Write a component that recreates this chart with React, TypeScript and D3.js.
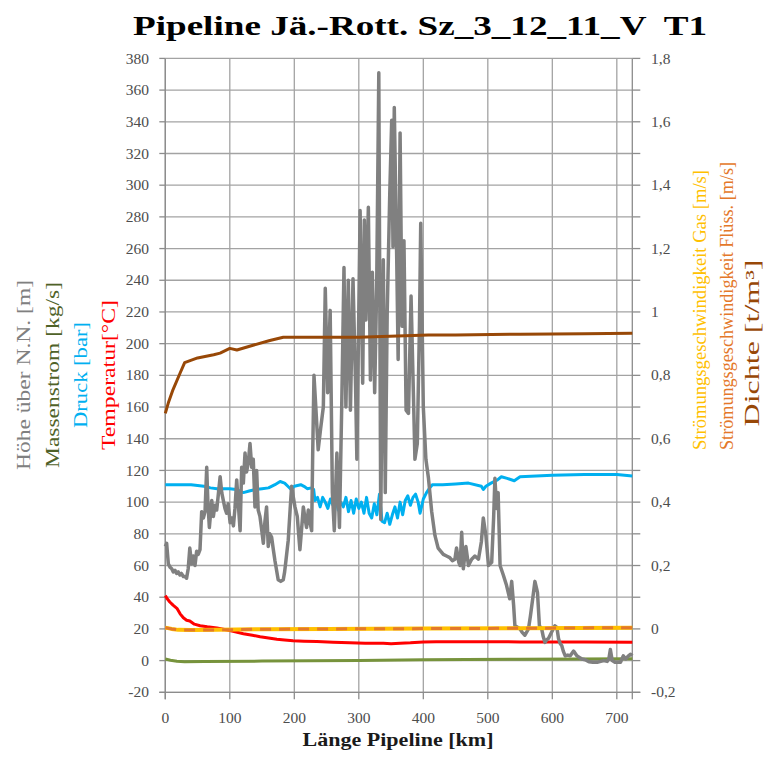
import React from 'react';
import * as d3 from 'd3';

const W = 766;
const H = 760;
const X0 = 165.3, X1 = 632.3, Y0 = 692.3, Y1 = 58.4;

const xTicks = [0, 100, 200, 300, 400, 500, 600, 700];
const leftTicks = [-20, 0, 20, 40, 60, 80, 100, 120, 140, 160, 180, 200, 220, 240, 260, 280, 300, 320, 340, 360, 380];
const rightTicks = [-0.2, 0, 0.2, 0.4, 0.6, 0.8, 1, 1.2, 1.4, 1.6, 1.8];
const rightTickLabels = ['-0,2', '0', '0,2', '0,4', '0,6', '0,8', '1', '1,2', '1,4', '1,6', '1,8'];
const rightMinorTicks = [-0.2, -0.1, 0, 0.1, 0.2, 0.3, 0.4, 0.5, 0.6, 0.7, 0.8, 0.9, 1, 1.1, 1.2, 1.3, 1.4, 1.5, 1.6, 1.7, 1.8];

// Höhe über N.N. [m]
const hoeheKm = [0, 2.1, 4.7, 7.3, 10, 12.4, 15, 17.6, 20, 22.8, 25, 28, 30.5, 33, 35.5, 38, 40.8, 43.4, 46, 48.6, 51, 53.8, 56.4, 59, 61.6, 64.2, 66, 68.3, 72, 74.5, 77, 79.7, 82, 85, 87.5, 90, 92.5, 95, 97.5, 100.5, 103, 105.6, 108, 110.7, 113, 116, 118.4, 121, 123.6, 126, 128.7, 131.3, 134, 136.4, 139, 141.6, 144, 146.7, 149, 152, 154.5, 157, 159.6, 162, 164.8, 167.5, 170, 172.5, 175, 179, 182.9, 185, 187, 190.6, 193, 195.8, 198.5, 201, 204.6, 206.7, 208.7, 211.5, 214, 216.5, 219, 221.7, 224, 226.9, 228.5, 230.5, 233.6, 237, 241, 245, 248, 251.7, 255.6, 259, 262, 266, 270, 273.4, 277, 280, 283.7, 287, 291, 295, 297, 302, 306, 308.6, 311, 314.8, 318, 321, 324.6, 327.7, 331, 334, 338, 341, 344, 348, 351, 353, 355, 358.8, 361, 364, 367, 370, 373.3, 377, 381, 384.6, 387, 390.7, 394, 396, 400, 404, 408, 413, 418, 423, 431, 436, 441, 445, 449, 451.5, 455, 457, 459.5, 462, 466, 470, 475, 480, 485.5, 490, 493, 497, 501, 506, 509, 511, 513.7, 516, 519, 524, 529, 534, 537, 540, 542, 546, 549.8, 553, 557.5, 563, 566, 569.6, 573, 577, 580, 583.5, 586, 588.7, 591, 594, 599, 604, 607, 609.6, 612, 614.7, 617, 620, 624, 627.8, 633, 638, 642, 646, 651, 656.6, 663, 669.5, 675, 680, 685, 687.6, 690, 692.8, 697, 700.6, 705.7, 710, 713.6, 718, 721.4, 724];
const hoeheVal = [72, 74, 61, 59, 58, 56, 57, 55, 56, 54, 55, 53, 53, 52, 58, 71, 61, 66, 60, 69, 67, 70, 94, 90, 94, 122, 100, 84, 101, 91, 98, 95, 104, 116, 106, 101, 96, 93, 99, 87, 90, 85, 96, 114, 100, 82, 122, 112, 131, 119, 125, 137, 122, 127, 97, 120, 95, 91, 84, 74, 88, 97, 72, 80, 78, 70, 63, 57, 51, 50, 51, 56, 63, 76, 92, 110, 103, 97, 91, 80, 70, 84, 97, 90, 84, 95, 88, 82, 130, 180, 158, 133, 147, 160, 235, 169, 221, 106, 82, 131, 84, 158, 248, 160, 240, 158, 241, 173, 127, 284, 175, 278, 215, 286, 177, 245, 169, 236, 371, 89, 253, 106, 219, 295, 341, 261, 349, 253, 190, 333, 211, 265, 158, 156, 230, 169, 127, 137, 211, 276, 160, 127, 115, 94, 79, 71, 67, 66, 65, 63, 64, 71, 62, 60, 81, 58, 72, 60, 64, 66, 64, 75, 90, 79, 60, 62, 90, 115, 96, 106, 60, 54, 47.5, 39, 50, 35, 22, 21, 20, 18, 16, 20, 28, 39, 50, 43, 22, 20, 15, 11.5, 13, 14, 18, 22, 21, 14, 11, 9.4, 6, 3, 3.5, 3, 6, 3, 2, 1, 0.5, -0.7, -1, -1.1, -0.5, 0, -0.5, 1, 7, 0, -1, -1, -1, 3, 1, 3, 4, 3];

// Massenstrom [kg/s]
const massKm = [0, 8, 18, 30, 60, 150, 300, 400, 550, 724];
const massVal = [1, 0.2, -0.4, -0.7, -0.6, -0.3, 0.1, 0.5, 0.9, 1.2];

// Druck [bar]
const druckKm = [0, 20, 40, 50, 60, 70, 80, 100, 110, 121, 130, 140, 150, 160, 170, 178, 185, 190, 195, 200, 210, 215, 220, 227, 230, 232, 236, 240, 244, 248, 252, 256, 260, 264, 268, 272, 276, 280, 284, 288, 292, 296, 300, 304, 308, 312, 316, 320, 324, 328, 332, 336, 340, 344, 348, 352, 356, 360, 364, 368, 372, 376, 380, 384, 388, 392, 395, 400, 405, 410, 414, 430, 450, 470, 490, 493, 497, 505, 515, 521, 530, 541, 550, 600, 650, 700, 724];
const druckVal = [111, 111, 111, 110.5, 110, 109, 108.5, 108.5, 108, 106, 107, 108, 108.5, 109, 111, 113, 112, 110, 108, 110, 111, 110, 108.5, 109, 108, 101, 103, 97, 103, 100, 96, 102, 98, 103, 95, 100, 97, 103, 94, 101, 93, 102, 96, 100, 93, 103, 93, 90, 99, 92, 105, 88, 87, 93, 86, 92, 97, 90, 100, 92, 101, 104, 98, 103, 105, 100, 93, 102, 106, 109, 111, 111, 111.5, 112, 110, 108, 110, 112, 114, 116, 115, 113.5, 116, 117, 117.5, 117.5, 116.5];

// Temperatur [°C]
const tempKm = [0, 3, 7, 12, 18, 23, 28, 33, 38, 45, 54, 65, 80, 90, 100, 110, 121, 135, 147, 160, 173, 185, 198, 215, 235, 260, 286, 310, 338, 350, 364, 380, 400, 420, 450, 500, 550, 600, 650, 724];
const tempVal = [41, 39, 37, 35, 33, 29.5, 27, 25.5, 25, 23, 22, 21.3, 20.6, 19.8, 19, 18, 17, 16, 15, 14.2, 13.5, 13, 12.5, 12.2, 12, 11.6, 11.3, 11, 11, 10.7, 10.9, 11.2, 11.8, 11.9, 11.9, 11.9, 11.8, 11.8, 11.7, 11.6];

// Strömungsgeschwindigkeit Gas / Flüss. [m/s] (right axis)
const speedKm = [0, 10, 20, 40, 80, 150, 250, 400, 550, 724];
const gasVal = [0.004, 0.0, -0.003, -0.0035, -0.003, -0.001, 0.0, 0.001, 0.002, 0.004];
const fluessVal = [0.004, 0.0, -0.003, -0.0035, -0.003, -0.001, 0.0, 0.001, 0.002, 0.004];

// Dichte [t/m³] (right axis)
const dichteKm = [0, 4.6, 12, 23, 30, 50, 75, 85, 100, 111, 136, 162, 183, 230, 300, 408, 450, 550, 650, 724];
const dichteVal = [0.68, 0.7125, 0.755, 0.8075, 0.84, 0.855, 0.865, 0.87, 0.885, 0.88, 0.895, 0.91, 0.92, 0.92, 0.92, 0.9275, 0.9275, 0.93, 0.9315, 0.9325];

const SERIF = '"Liberation Serif", "DejaVu Serif", serif';

export default function App() {
  const x = d3.scaleLinear().domain([0, 724]).range([X0, X1]);
  const yL = d3.scaleLinear().domain([-20, 380]).range([Y0, Y1]);
  const yR = d3.scaleLinear().domain([-0.2, 1.8]).range([Y0, Y1]);

  const mk = (km: number[], v: number[], y: d3.ScaleLinear<number, number>) =>
    d3.line<number>().x((_, i) => x(km[i])).y((d) => y(d))(v) || '';

  const gridColor = '#a3a3a3';
  const axisColor = '#8c8c8c';
  const tickText = '#4d4d4d';
  const tickFs = 15.5;

  const rotLabel = (cx: number, cy: number, txt: string, color: string, fs: number, len: number) => (
    <text
      transform={`translate(${cx},${cy}) rotate(-90)`}
      textAnchor="middle"
      dominantBaseline="central"
      fontFamily={SERIF}
      fontSize={fs}
      fill={color}
      textLength={len}
      lengthAdjust="spacingAndGlyphs"
    >
      {txt}
    </text>
  );

  return (
    <svg width={W} height={H} style={{ position: 'absolute', left: 0, top: 0, background: '#fff' }}>
      <rect x={0} y={0} width={W} height={H} fill="#fff" />
      {leftTicks.map((t) => (
        <line key={'hg' + t} x1={X0} x2={X1} y1={yL(t)} y2={yL(t)} stroke={gridColor} strokeWidth={1.3} />
      ))}
      {xTicks.map((t) => (
        <line key={'vg' + t} x1={x(t)} x2={x(t)} y1={Y1} y2={Y0} stroke={gridColor} strokeWidth={1.3} />
      ))}
      <line x1={X0} x2={X0} y1={Y1} y2={Y0 + 7} stroke={axisColor} strokeWidth={1.3} />
      <line x1={X1} x2={X1} y1={Y1} y2={Y0 + 7} stroke={axisColor} strokeWidth={1.3} />
      <line x1={X0 - 6} x2={X1 + 8} y1={Y0} y2={Y0} stroke={axisColor} strokeWidth={1.3} />
      {leftTicks.map((t) => (
        <line key={'lt' + t} x1={X0 - 6} x2={X0} y1={yL(t)} y2={yL(t)} stroke={axisColor} strokeWidth={1.3} />
      ))}
      {rightMinorTicks.map((t) => (
        <line key={'rt' + t} x1={X1} x2={X1 + 8} y1={yR(t)} y2={yR(t)} stroke={axisColor} strokeWidth={1.3} />
      ))}
      {xTicks.map((t) => (
        <line key={'bt' + t} x1={x(t)} x2={x(t)} y1={Y0} y2={Y0 + 7} stroke={axisColor} strokeWidth={1.3} />
      ))}
      {leftTicks.map((t) => (
        <text key={'ll' + t} x={149} y={yL(t)} dy="0.33em" textAnchor="end" fontFamily={SERIF} fontSize={tickFs} fill={tickText}>
          {t}
        </text>
      ))}
      {rightTicks.map((t, i) => (
        <text key={'rl' + t} x={651} y={yR(t)} dy="0.33em" textAnchor="start" fontFamily={SERIF} fontSize={tickFs} fill={tickText}>
          {rightTickLabels[i]}
        </text>
      ))}
      {xTicks.map((t) => (
        <text key={'xl' + t} x={x(t)} y={723} textAnchor="middle" fontFamily={SERIF} fontSize={tickFs} fill={tickText}>
          {t}
        </text>
      ))}

      <path d={mk(druckKm, druckVal, yL)} fill="none" stroke="#00b0f0" strokeWidth={3} strokeLinejoin="round" />
      <path d={mk(tempKm, tempVal, yL)} fill="none" stroke="#ff0000" strokeWidth={3} strokeLinejoin="round" />
      <path d={mk(massKm, massVal, yL)} fill="none" stroke="#77933c" strokeWidth={3} strokeLinejoin="round" />
      <path d={mk(hoeheKm, hoeheVal, yL)} fill="none" stroke="#808080" strokeWidth={3.5} strokeLinejoin="round" />
      <path d={mk(speedKm, gasVal, yR)} fill="none" stroke="#ffc000" strokeWidth={4} strokeLinejoin="round" />
      <path d={mk(speedKm, fluessVal, yR)} fill="none" stroke="#e4782a" strokeWidth={3} strokeDasharray="11 8" />
      <path d={mk(dichteKm, dichteVal, yR)} fill="none" stroke="#984807" strokeWidth={3} strokeLinejoin="round" />

      <text x={420} y={35} textAnchor="middle" fontFamily={SERIF} fontWeight="bold" fontSize={27} fill="#000" textLength={574} lengthAdjust="spacingAndGlyphs" style={{ whiteSpace: 'pre' }}>
        {'Pipeline Jä.-Rott. Sz_3_12_11_V  T1'}
      </text>
      <text x={398} y={746} textAnchor="middle" fontFamily={SERIF} fontWeight="bold" fontSize={19} fill="#1a1a1a" textLength={191} lengthAdjust="spacingAndGlyphs">
        Länge Pipeline [km]
      </text>

      {rotLabel(23, 375, 'Höhe über N.N. [m]', '#808080', 19, 190)}
      {rotLabel(52, 375, 'Massenstrom [kg/s]', '#4f6228', 19, 186)}
      {rotLabel(80, 375, 'Druck [bar]', '#00b0f0', 19, 106)}
      {rotLabel(108, 375, 'Temperatur[°C]', '#ff0000', 19, 150)}

      {rotLabel(700, 310, 'Strömungsgeschwindigkeit Gas [m/s]', '#ffc000', 18, 280)}
      {rotLabel(727, 306, 'Strömungsgeschwindigkeit Flüss. [m/s]', '#e4782a', 18, 288)}
      {rotLabel(752, 343, 'Dichte [t/m³]', '#984807', 20, 167)}
    </svg>
  );
}
